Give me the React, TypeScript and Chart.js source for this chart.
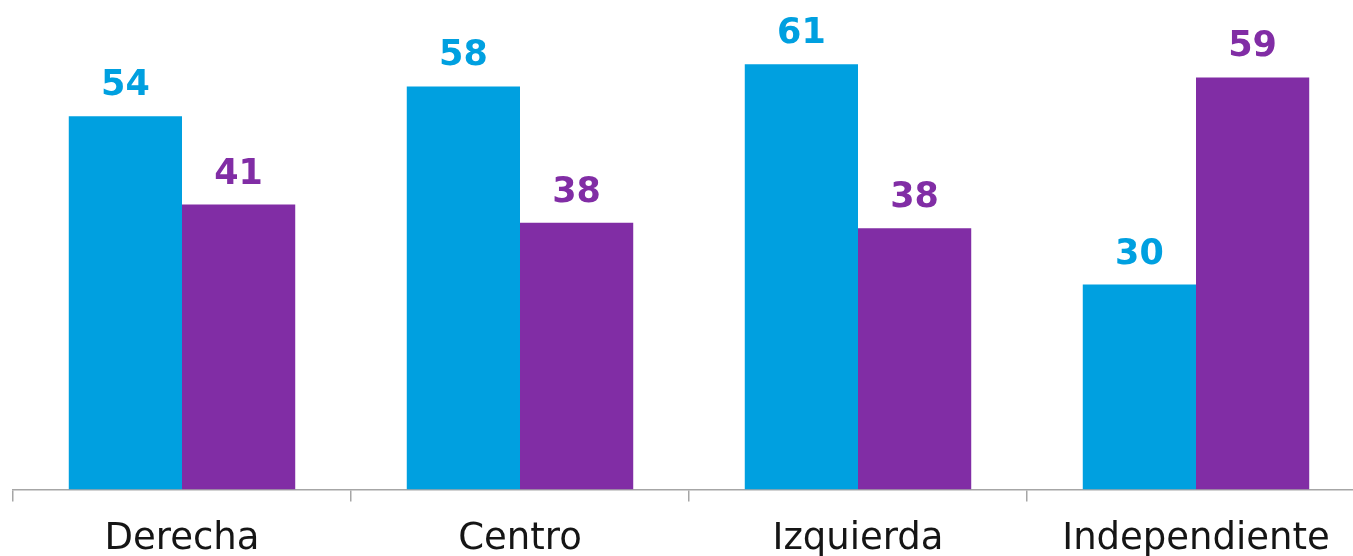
import React, { useEffect, useRef } from "react";
import { Chart, registerables } from "chart.js";

Chart.register(...registerables);

const categories = ["Derecha", "Centro", "Izquierda", "Independiente"];
const seriesA = [53.7, 58.0, 61.2, 29.5];
const seriesB = [41.0, 38.4, 37.6, 59.3];
const colorA = "#00A0E0";
const colorB = "#812DA5";

const valueLabels = {
  id: "valueLabels",
  afterDatasetsDraw(chart: any) {
    const ctx = chart.ctx;
    ctx.save();
    ctx.font = "bold 35px 'DejaVu Sans'";
    ctx.textAlign = "center";
    ctx.textBaseline = "alphabetic";
    chart.data.datasets.forEach((ds: any, i: number) => {
      const meta = chart.getDatasetMeta(i);
      ctx.fillStyle = ds.backgroundColor;
      meta.data.forEach((bar: any, j: number) => {
        ctx.fillText(String(Math.round(ds.data[j])), bar.x, bar.y - 21);
      });
    });
    ctx.restore();
  },
};

export default function App() {
  const ref = useRef<HTMLCanvasElement>(null);
  useEffect(() => {
    if (!ref.current) return;
    const chart = new Chart(ref.current, {
      type: "bar",
      data: {
        labels: categories,
        datasets: [
          { data: seriesA, backgroundColor: colorA, borderWidth: 0 },
          { data: seriesB, backgroundColor: colorB, borderWidth: 0 },
        ],
      },
      options: {
        animation: false,
        responsive: false,
        maintainAspectRatio: false,
        devicePixelRatio: 1,
        layout: { padding: { left: 13, right: 5, top: 3, bottom: 0 } },
        plugins: { legend: { display: false }, tooltip: { enabled: false } },
        datasets: { bar: { categoryPercentage: 0.67, barPercentage: 1 } },
        scales: {
          x: {
            grid: {
              display: true,
              drawOnChartArea: false,
              drawTicks: true,
              tickLength: 12,
              color: "#a6a6a6",
              lineWidth: 1.5,
            },
            border: { display: true, color: "#a6a6a6", width: 1.5 },
            ticks: {
              color: "#151515",
              font: { family: "'DejaVu Sans'", size: 37 },
              padding: 16,
            },
          },
          y: { display: false, min: 0, max: 70 },
        },
      },
      plugins: [valueLabels],
    });
    return () => chart.destroy();
  }, []);
  return (
    <div style={{ position: "fixed", left: 0, top: 0, width: 1353, height: 556, overflow: "hidden", background: "#fff" }}>
      <canvas ref={ref} width={1370} height={578} style={{ display: "block", width: 1370, height: 578 }} />
    </div>
  );
}
